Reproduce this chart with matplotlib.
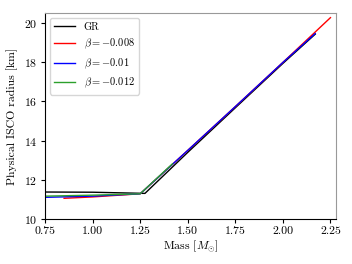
import matplotlib
matplotlib.use('Agg')
import matplotlib.pyplot as plt

plt.rcParams['font.family'] = 'serif'
plt.rcParams['font.serif'] = ['cmr10']
plt.rcParams['mathtext.fontset'] = 'cm'
plt.rcParams['axes.formatter.use_mathtext'] = True
plt.rcParams['font.size'] = 8.5

# GR
gr_mass = [0.75, 1.00, 1.275, 1.50, 1.75, 2.00, 2.17]
gr_risco = [11.38, 11.37, 11.31, 13.40, 15.67, 17.93, 19.42]
# beta = -0.008
b1_mass = [0.85, 1.00, 1.25, 1.50, 1.75, 2.00, 2.25]
b1_risco = [11.06, 11.13, 11.29, 13.50, 15.73, 17.98, 20.26]
# beta = -0.01
b2_mass = [0.75, 1.00, 1.25, 1.50, 1.75, 2.00, 2.17]
b2_risco = [11.11, 11.17, 11.29, 13.50, 15.73, 17.98, 19.45]
# beta = -0.012
b3_mass = [0.75, 1.00, 1.25, 1.42]
b3_risco = [11.17, 11.22, 11.29, 12.82]

fig = plt.figure(figsize=(3.52, 2.64), dpi=100)
ax = fig.add_axes([0.128, 0.17, 0.827, 0.781])

ax.plot(gr_mass, gr_risco, color='black', lw=1.0, label='GR')
ax.plot(b1_mass, b1_risco, color='red', lw=1.0, label=r'$\beta = -0.008$')
ax.plot(b2_mass, b2_risco, color='blue', lw=1.0, label=r'$\beta = -0.01$')
ax.plot(b3_mass, b3_risco, color='#2ca02c', lw=1.0, label=r'$\beta = -0.012$')

ax.set_xlim(0.75, 2.28)
ax.set_ylim(10, 20.5)
ax.set_xticks([0.75, 1.00, 1.25, 1.50, 1.75, 2.00, 2.25])
ax.set_xticklabels(['0.75', '1.00', '1.25', '1.50', '1.75', '2.00', '2.25'])
ax.set_yticks([10, 12, 14, 16, 18, 20])
ax.tick_params(length=3, pad=2.5)
ax.set_xlabel(r'Mass $[M_{\odot}]$', labelpad=2)
ax.set_ylabel('Physical ISCO radius [km]', labelpad=4)

for s in ['top', 'right']:
    ax.spines[s].set_color('#999999')

ax.legend(loc='upper left', fontsize=7.5)

fig.savefig('out.png', dpi=100)
